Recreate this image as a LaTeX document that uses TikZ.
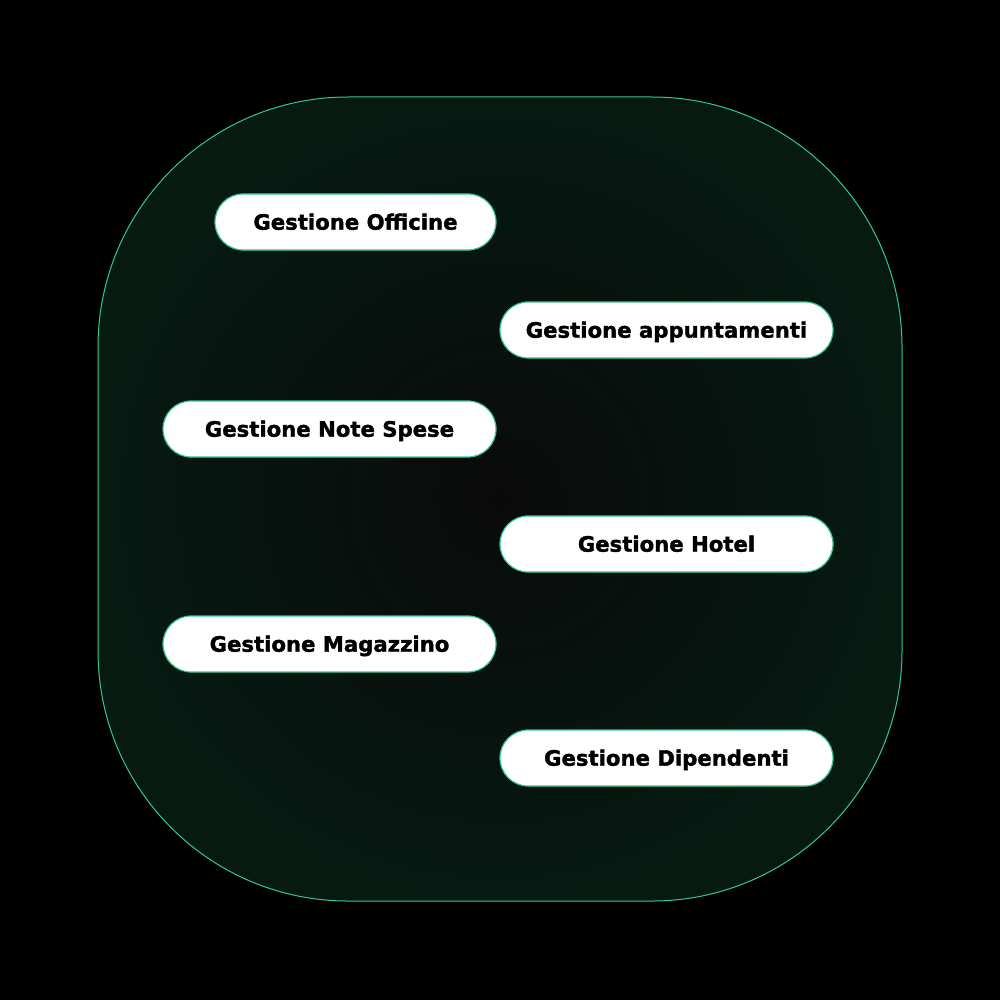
\documentclass[tikz,border=0pt]{standalone}
\usepackage{fontspec}
\setmainfont{DejaVu Sans}[BoldFeatures={FakeBold=1.6}]
\usepackage{xcolor}
\usetikzlibrary{backgrounds}
\definecolor{edgegreen}{RGB}{52,200,140}
\definecolor{boxgreen}{RGB}{6,26,18}
\definecolor{boxdark}{RGB}{10,10,10}

\begin{document}
\begin{tikzpicture}[x=0.5pt,y=-0.5pt,
  pill/.style={draw=edgegreen,line width=0.6pt,fill=white,rounded corners=14pt,
    minimum height=28pt,minimum width=166.5pt,inner sep=0pt,
    text height=7.7pt,text depth=0pt,
    font=\bfseries\fontsize{10.6pt}{12pt}\selectfont,text=black}]
\fill[black] (0,0) rectangle (1000,1000);
\useasboundingbox (0,0) rectangle (1000,1000);
\shade[inner color=boxdark,outer color=boxgreen,rounded corners=125pt] (98,97) rectangle (902,901);
\draw[edgegreen,line width=0.5pt,rounded corners=125pt] (98,97) rectangle (902,901);
\node[pill,minimum width=140.5pt] (officine) at (355.5,222) {Gestione Officine};
\node[pill] (appuntamenti) at (666.5,330) {Gestione appuntamenti};
\node[pill] (notespese) at (329.5,429) {Gestione Note Spese};
\node[pill] (hotel) at (666.5,544) {Gestione Hotel};
\node[pill] (magazzino) at (329.5,644) {Gestione Magazzino};
\node[pill] (dipendenti) at (666.5,758) {Gestione Dipendenti};
\end{tikzpicture}
\end{document}
